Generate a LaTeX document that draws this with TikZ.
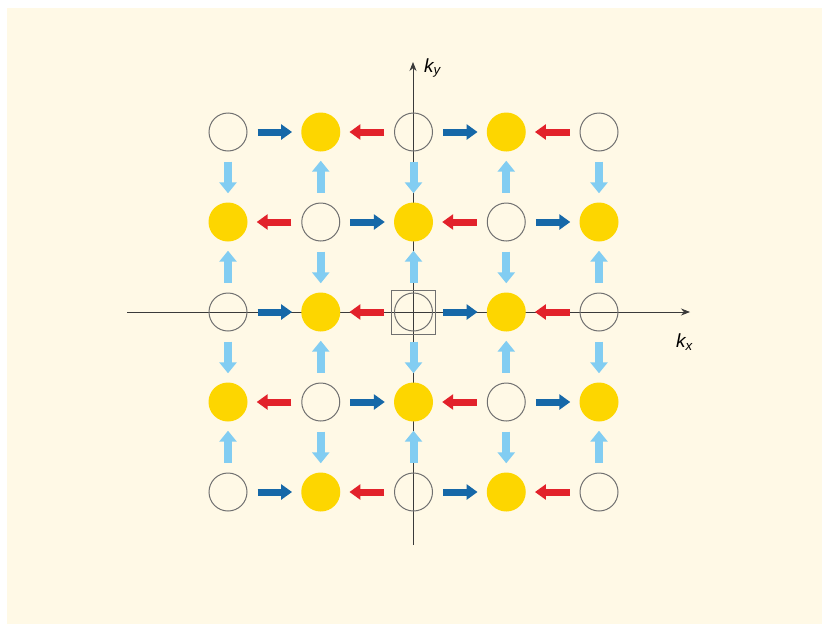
\documentclass[tikz,border=0pt]{standalone}
\usepackage{fontspec}
\setmainfont{Liberation Sans}
\usetikzlibrary{arrows.meta}
\definecolor{cream}{HTML}{FFF9E6}
\definecolor{ylw}{HTML}{FDD600}
\definecolor{dblue}{HTML}{1668A8}
\definecolor{rred}{HTML}{E2222B}
\definecolor{lblue}{HTML}{82CDF2}
\definecolor{ring}{HTML}{707070}
\definecolor{axis}{HTML}{3A3A3A}
\begin{document}
\begin{tikzpicture}[x=1pt,y=-1pt,
  opencirc/.style={circle,draw=ring,line width=1pt,minimum size=38pt,inner sep=0pt},
  fullcirc/.style={circle,fill=ylw,minimum size=39pt,inner sep=0pt},
  harrow/.style={line width=7pt,-{Triangle[length=11pt,width=15pt]},shorten <=10pt,shorten >=9pt},
  rarrow/.style={harrow,draw=dblue},
  larrow/.style={harrow,draw=rred},
  varrow/.style={draw=lblue,line width=8pt,-{Triangle[length=11pt,width=17pt]},shorten <=10pt,shorten >=9pt},
  axisline/.style={draw=axis,line width=0.8pt,-{Stealth[length=9pt,width=7pt]}},
  lbl/.style={font=\fontsize{19}{19}\selectfont\itshape,inner sep=0pt}
]
\useasboundingbox (0,0) rectangle (822,624);
\fill[white] (0,0) rectangle (822,624);
\fill[cream] (7,8) rectangle (822,624);
% axes (behind everything)
\coordinate (xs) at (127,312);
\coordinate (xe) at (690,312);
\coordinate (ys) at (413,545);
\coordinate (ye) at (413,62);
\draw[axisline] (xs) -- (xe);
\draw[axisline] (ys) -- (ye);
\node[lbl,anchor=west] (ky) at (424,68) {k\textsubscript{y}};
\node[lbl,anchor=west] (kx) at (676,342) {k\textsubscript{x}};
% lattice
\foreach \r in {0,...,4}{
  \foreach \c in {0,...,4}{
    \ifodd\numexpr\r+\c\relax
      \node[fullcirc] (n\r\c) at ({228+92.75*\c},{132+90*\r}) {};
    \else
      \node[opencirc] (n\r\c) at ({228+92.75*\c},{132+90*\r}) {};
    \fi
  }
}
% horizontal arrows
\foreach \r in {0,...,4}{
  \foreach \c [evaluate=\c as \cc using int(\c+1)] in {0,...,3}{
    \ifodd\numexpr\r+\c\relax
      \draw[larrow] (n\r\cc) -- (n\r\c);
    \else
      \draw[rarrow] (n\r\c) -- (n\r\cc);
    \fi
  }
}
% vertical arrows
\foreach \r [evaluate=\r as \rr using int(\r+1)] in {0,...,3}{
  \foreach \c in {0,...,4}{
    \ifodd\numexpr\r+\c\relax
      \draw[varrow] (n\rr\c) -- (n\r\c);
    \else
      \draw[varrow] (n\r\c) -- (n\rr\c);
    \fi
  }
}
% box around origin
\node[draw=ring,line width=0.9pt,minimum size=44pt,inner sep=0pt] (box) at (n22) {};
\end{tikzpicture}
\end{document}
